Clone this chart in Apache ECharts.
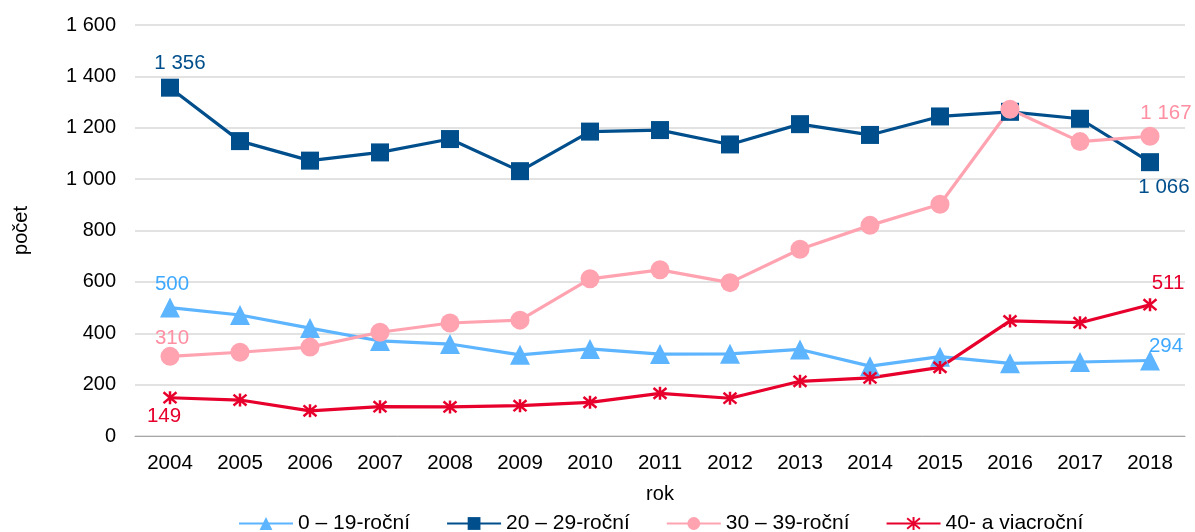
<!DOCTYPE html>
<html><head><meta charset="utf-8">
<script src="https://cdn.jsdelivr.net/npm/echarts@6/dist/echarts.min.js"></script>
<style>html,body{margin:0;padding:0;background:#fff}#c{width:1195px;height:532px}</style>
</head><body><div id="c"></div>
<script>
const years = ['2004','2005','2006','2007','2008','2009','2010','2011','2012','2013','2014','2015','2016','2017','2018'];
const s0_19 = [500,471,420,370,358,316,339,319,320,337,272,309,283,288,294];
const s20_29 = [1356,1148,1072,1104,1156,1031,1185,1191,1135,1214,1172,1244,1262,1235,1066];
const s30_39 = [310,326,346,404,440,451,612,647,597,727,820,902,1272,1146,1167];
const s40 = [149,140,98,114,113,118,131,166,147,213,226,267,448,441,511];
const seriesNames = ['0 – 19-roční','20 – 29-roční','30 – 39-roční','40- a viacroční'];

const fmt = v => String(v).replace(/\B(?=(\d{3})+(?!\d))/g, ' ');
const font = 'Liberation Sans, Arial, sans-serif';

function withLabels(arr, color, firstOff, lastOff) {
  return arr.map((v, i) => {
    if (i === 0 || i === arr.length - 1) {
      const off = i === 0 ? firstOff : lastOff;
      return { value: v, label: { show: true, position: 'inside', offset: off, color: color, fontSize: 20.5, fontFamily: font, formatter: p => fmt(p.value) } };
    }
    return v;
  });
}

const cLight = '#5DB4FF', cDark = '#004F8C', cPink = '#FFA3B1', cRed = '#E8002D';
const star = 'path://M0,0 L10,10 M10,0 L0,10 M5,-1 L5,11';

const chart = echarts.init(document.getElementById('c'));
chart.setOption({
  animation: false,
  textStyle: { fontFamily: font },
  grid: { left: 135, right: 10, top: 25, bottom: 96 },
  legend: {
    left: 233, top: 508, itemWidth: 54, itemHeight: 16, itemGap: 36,
    textStyle: { fontSize: 21, color: '#000', fontFamily: font },
    data: seriesNames
  },
  xAxis: {
    type: 'category', data: years, boundaryGap: true,
    name: 'rok', nameLocation: 'middle', nameGap: 48,
    nameTextStyle: { fontSize: 20, color: '#000' },
    axisLine: { lineStyle: { color: '#a6a6a6', width: 1 } },
    axisTick: { show: false },
    axisLabel: { fontSize: 20.5, color: '#000', margin: 17 }
  },
  yAxis: {
    type: 'value', min: 0, max: 1600, interval: 200,
    name: 'počet', nameLocation: 'middle', nameGap: 104, nameRotate: 90,
    nameTextStyle: { fontSize: 20, color: '#000' },
    axisLine: { show: false }, axisTick: { show: false },
    axisLabel: { fontSize: 20, color: '#000', margin: 19, formatter: v => fmt(v) },
    splitLine: { lineStyle: { color: '#d9d9d9', width: 1.5 } }
  },
  series: [
    { name: seriesNames[0], type: 'line', data: withLabels(s0_19, '#3FA9FF', [2, -23], [16, -14]),
      symbol: 'triangle', symbolSize: 20, lineStyle: { color: cLight, width: 3.2 }, itemStyle: { color: cLight } },
    { name: seriesNames[1], type: 'line', data: withLabels(s20_29, cDark, [10, -24], [14, 25]),
      symbol: 'rect', symbolSize: 18, lineStyle: { color: cDark, width: 3.2 }, itemStyle: { color: cDark } },
    { name: seriesNames[2], type: 'line', data: withLabels(s30_39, '#FF8FA2', [2, -18], [16, -23]),
      symbol: 'circle', symbolSize: 19, lineStyle: { color: cPink, width: 3.2 }, itemStyle: { color: cPink } },
    { name: seriesNames[3], type: 'line', data: withLabels(s40, cRed, [-6, 19], [18, -21]),
      symbol: star, symbolSize: 13, lineStyle: { color: cRed, width: 3.2 },
      itemStyle: { color: 'rgba(0,0,0,0)', borderColor: cRed, borderWidth: 2.5 } }
  ]
});
</script></body></html>
